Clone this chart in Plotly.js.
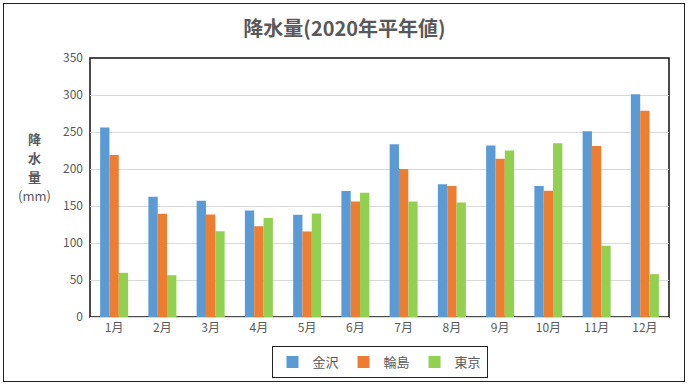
<!DOCTYPE html>
<html><head><meta charset="utf-8">
<script src="https://cdn.plot.ly/plotly-3.0.1.min.js"></script>
<style>body{margin:0;background:#fff}#wrap{position:relative;width:689px;height:387px}#c{width:689px;height:387px}#frame{position:absolute;left:3px;top:3px;width:680px;height:377px;border:1.5px solid #222;pointer-events:none}</style>
</head><body><div id="wrap"><div id="c"></div><div id="frame"></div></div>
<script>
const months = ['1月','2月','3月','4月','5月','6月','7月','8月','9月','10月','11月','12月'];
const kanazawa = [256.0,162.6,157.2,143.9,138.1,170.3,233.4,179.3,231.9,177.1,250.9,301.1];
const wajima = [219.0,139.6,138.4,122.5,115.6,156.0,199.9,177.1,213.8,170.5,231.2,278.7];
const tokyo = [59.7,56.5,116.0,133.7,139.7,167.8,156.2,154.7,224.9,234.8,96.3,57.9];
const names = ['金沢','輪島','東京'];
const colors = ['#5b9bd5','#ed7d31','#92d050'];
const ytitle = ['降','水','量','(mm)'];
const F = '"Noto Sans CJK JP", "Noto Sans", sans-serif';
const series = [kanazawa, wajima, tokyo];
const data = series.map((s,i)=>({type:'bar', x:months, y:s, name:names[i], marker:{color:colors[i]}}));
const ann = ytitle.map((t,i)=>({text: i<3 ? '<b>'+t+'</b>' : t, xref:'paper', yref:'paper', x:-0.095, y:(317 - (138 + i*19))/259, xanchor:'center', yanchor:'middle', showarrow:false, font:{family:F,size:13,color:'#595959'}}));
const layout = {
  width:689, height:387,
  margin:{l:90,r:20,t:58,b:70, autoexpand:false},
  barmode:'group', bargap:0.42, bargroupgap:0,
  paper_bgcolor:'#fff', plot_bgcolor:'#fff',
  font:{family:F, color:'#595959', size:12},
  title:{text:'<b>降水量(2020年平年値)</b>', x:0.5, xanchor:'center', y:0.925, yanchor:'middle', font:{family:F,size:20,color:'#595959'}},
  xaxis:{showgrid:false, showline:true, linecolor:'#d9d9d9', linewidth:1, ticks:'', tickfont:{size:12,color:'#595959'}},
  yaxis:{range:[0,350], dtick:50, showgrid:true, gridcolor:'#d9d9d9', gridwidth:1, zeroline:false, showline:false, ticks:'', ticklabelstandoff:6, tickfont:{size:12,color:'#595959'}},
  legend:{orientation:'h', x:0.5, xanchor:'center', xref:'paper', y:(317-362)/259, yanchor:'middle', bordercolor:'#222', borderwidth:1, font:{size:13,color:'#595959'}, traceorder:'normal', itemwidth:30},
  showlegend:true,
  shapes:[{type:'rect', xref:'paper', yref:'paper', x0:0, x1:1, y0:0, y1:1, line:{color:'#111', width:1.5}, layer:'below'}],
  annotations:ann
};
Plotly.newPlot('c', data, layout, {displayModeBar:false, staticPlot:true});
</script></body></html>
